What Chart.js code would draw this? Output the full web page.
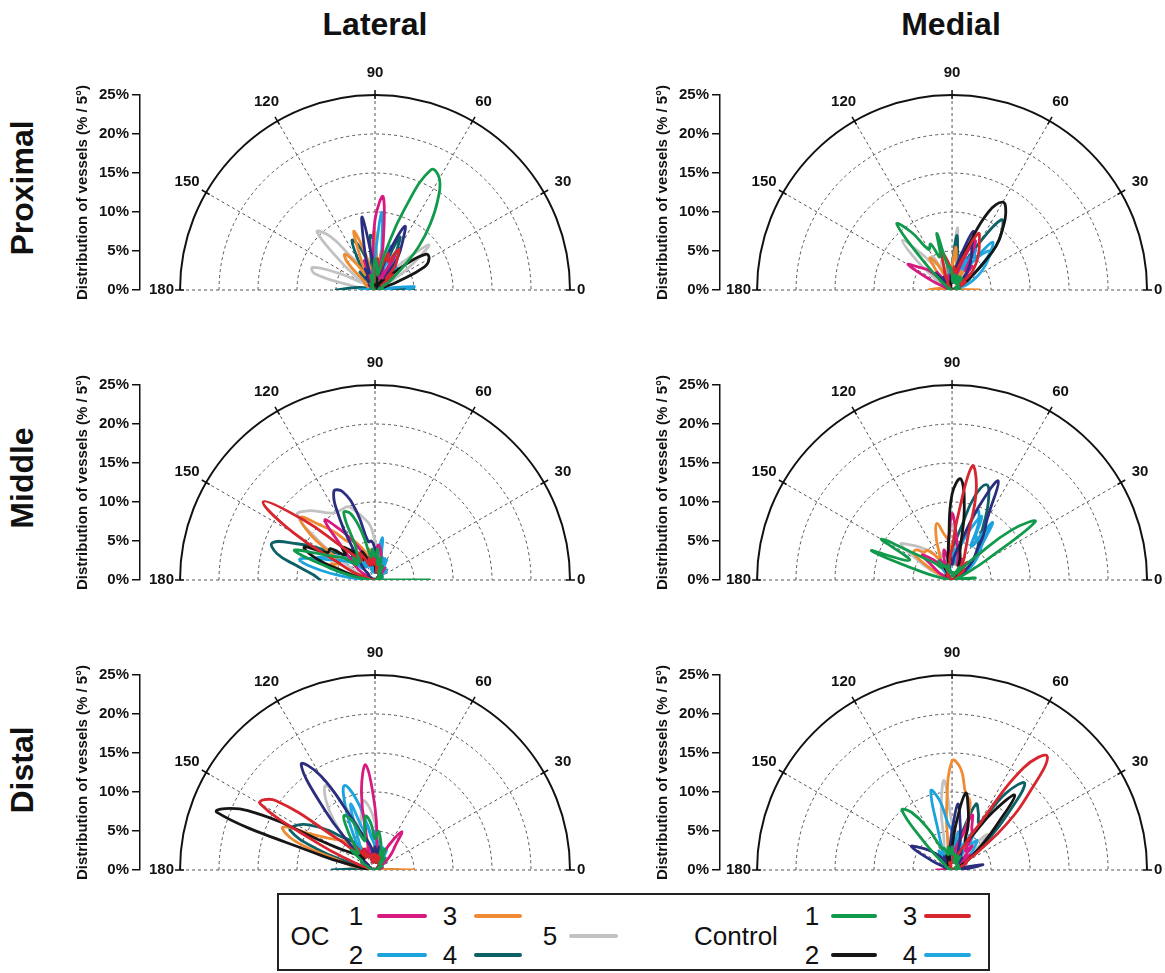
<!DOCTYPE html>
<html>
<head>
<meta charset="utf-8">
<script src="https://cdn.jsdelivr.net/npm/chart.js"></script>
<style>
  body { margin: 0; width: 1165px; height: 973px; overflow: hidden; background: #fff; position: relative;
         font-family: "Liberation Sans", Arial, sans-serif; color: #111; }
  canvas { position: absolute; }
  .colhead { position: absolute; top: 6px; font-size: 32px; font-weight: bold; transform: translateX(-50%); }
  .rowhead { position: absolute; left: 22px; font-size: 32px; font-weight: bold; white-space: nowrap;
             transform: translate(-50%, -50%) rotate(-90deg); }
  #legend { position: absolute; left: 277px; top: 893px; width: 713px; height: 78px; box-sizing: border-box;
            border: 2px solid #222; }
  .lt { position: absolute; font-size: 26px; line-height: 26px; transform: translateX(-50%); }
  .ll { position: absolute; height: 4px; border-radius: 2px; }
</style>
</head>
<body>

<div class="colhead" style="left:375px">Lateral</div>
<div class="colhead" style="left:951px">Medial</div>
<div class="rowhead" style="top:188px">Proximal</div>
<div class="rowhead" style="top:478px">Middle</div>
<div class="rowhead" style="top:770px">Distal</div>

<canvas id="latProx" width="560" height="245" style="left:50px;top:60px"></canvas>
<canvas id="medProx" width="560" height="245" style="left:630px;top:60px"></canvas>
<canvas id="latMid" width="560" height="245" style="left:50px;top:350px"></canvas>
<canvas id="medMid" width="560" height="245" style="left:630px;top:350px"></canvas>
<canvas id="latDist" width="560" height="245" style="left:50px;top:640px"></canvas>
<canvas id="medDist" width="560" height="245" style="left:630px;top:640px"></canvas>

<div id="legend"></div>
<div class="lt" style="left:310px;top:923px">OC</div>
<div class="lt" style="left:356px;top:903px">1</div>
<div class="ll" style="left:377px;top:914px;width:50px;background:#d8197f"></div>
<div class="lt" style="left:450px;top:903px">3</div>
<div class="ll" style="left:474px;top:914px;width:48px;background:#ef8b32"></div>
<div class="lt" style="left:356px;top:942px">2</div>
<div class="ll" style="left:377px;top:953px;width:50px;background:#1aa3dc"></div>
<div class="lt" style="left:450px;top:942px">4</div>
<div class="ll" style="left:474px;top:953px;width:48px;background:#0c6166"></div>
<div class="lt" style="left:550px;top:923px">5</div>
<div class="ll" style="left:569px;top:934px;width:49px;background:#c2c2c2"></div>
<div class="lt" style="left:736px;top:923px">Control</div>
<div class="lt" style="left:812px;top:903px">1</div>
<div class="ll" style="left:831px;top:914px;width:46px;background:#129a4c"></div>
<div class="lt" style="left:910px;top:903px">3</div>
<div class="ll" style="left:924px;top:914px;width:47px;background:#d8262f"></div>
<div class="lt" style="left:812px;top:942px">2</div>
<div class="ll" style="left:831px;top:953px;width:46px;background:#161616"></div>
<div class="lt" style="left:910px;top:942px">4</div>
<div class="ll" style="left:924px;top:953px;width:47px;background:#22a8e0"></div>

<script>
// angle bins (degrees), one value per 5 degree bin
const angles = [0,5,10,15,20,25,30,35,40,45,50,55,60,65,70,75,80,85,90,95,100,105,110,115,120,125,130,135,140,145,150,155,160,165,170,175,180];
const ringValues = [5, 10, 15, 20, 25];
const spokeAngles = [0, 30, 60, 90, 120, 150, 180];

// ---- Lateral / Proximal ----
const latProx_OC1 = [0.5,0,1,0.5,1.5,0.5,2,1,3,1, 4,2,5,1.5,3,2,6,12,9,3, 1,2,4,1,2,0.5,1,0.5,1,0, 0.5,0,0.5,0,0.5,0,0.5];
const latProx_OC2 = [4,5,1,0.5,1,0.5,2,1,2,1, 3,1,4,2,6,3,5,10,4,1, 2,0.5,1,0.5,1,0.5,1,0.5,0.5,0, 0.5,0,0.5,0,0.5,1,2];
const latProx_OC3 = [1,0.5,0.5,0,1,0.5,1,0.5,2,1, 2,1,3,2,4,2,5,3,7.5,3, 2,5,8,4,2,4,6,5,2,1, 1.5,0.5,1,0.5,0.5,0,0.5];
const latProx_OC4 = [5,2,0.5,1,0.5,1,2,1,3,1, 4,2,5,7.5,3,2,5,3,6,7, 3,4,6,7,4,2,3,1,2,0.5, 1,0.5,1,1,2,3,5];
const latProx_OC5 = [1,0.5,1,0.5,1.5,1,3,6,9,5, 2,1,2,1,2,1,3,2,3,1, 2,1,2,2,4,5,9,10.5,6,3, 2,5,8.5,8,3,1,0.5];
const latProx_C1  = [1,0.5,1,0.5,1,1,2,3,5,8, 11,14,16.5,17,11,5,2,3,4,2, 1,2,1,1,0.5,1,0.5,0.5,0,0.5, 0,0.5,0,0.5,0,0.5,0.5];
const latProx_C2  = [0.5,0,1,1,3,7,8,8,5,2, 1,1.5,0.5,1,0.5,1,1.5,0.5,1,0.5, 1,0.5,1,0.5,0.5,0,0.5,0,0.5,0, 0.5,0,0.5,0,0.5,0,0.5];
const latProx_C3  = [1,0.5,1,0.5,1,1,2,1,3,2, 4,5,6,4,5,3,2,4,3,1, 2,1,2,1,1,0.5,1,0.5,0.5,0, 0.5,0,0.5,0,0.5,0,0.5];
const latProx_C4  = [2,1,0.5,1,0.5,1,2,3,2,4, 3,5,6,4,3,2,3,2,4,3, 2,1,2,1,1,0.5,1,0.5,1,0.5, 0.5,0,0.5,0,0.5,0,0.5];
const latProx_N   = [0.5,0,0.5,0,1,0.5,1,2,1,3, 2,5,7,9,5,2,3,1,2,4, 9.5,5,2,3,1,2,1,0.5,1,0.5, 0.5,0,0.5,0,0.5,0,0.5];

// ---- Medial / Proximal ----
const medProx_OC1 = [0.5,0,0.5,1,0.5,1,2,1,3,2, 4,3,5,7,4,2,3,1,2,1, 2,1,2,1,2,1,3,2,4,5, 6.5,3,1,0.5,0.5,0,0.5];
const medProx_OC2 = [1,0.5,1,0.5,1,1,2,3,5,7, 8,5,6,3,4,2,3,1,2,1, 3,1,2,1,1,0.5,1,0.5,1,0.5, 0.5,0,0.5,0,0.5,0,0.5];
const medProx_OC3 = [3.5,1,0.5,0,0.5,0.5,1,0.5,1,1, 2,1,3,2,4,2,3,5.5,3,2, 4,2,3,2,4,5,3,2,2,1, 1,0.5,0.5,0.5,1,2,3];
const medProx_OC4 = [0.5,0,0.5,0.5,1,1,2,3,5,8, 10,11,7,4,3,2,4,7,3,1, 2,1,2,1,1,0.5,1,0.5,0.5,0, 0.5,0,0.5,0,0.5,0,0.5];
const medProx_OC5 = [0.5,0,0.5,0.5,1,0.5,1,2,1,3, 2,3,2,4,3,5,4,8,3,2, 3,2,4,3,5,4,6,9,6,3, 2,1,1,0.5,0.5,0,0.5];
const medProx_C1  = [1,0.5,1,0.5,0.5,0.5,1,0.5,1,1, 2,1,2,1,2,1,2,1,2,3, 3,7.5,4.5,6.5,6,9,11,5,2,1, 0.5,0,0.5,0,0.5,0,0.5];
const medProx_C2  = [0.5,0,0.5,0.5,1,1,2,3,5,8, 10,12,13,11,6,3,2,1,2,1, 1,0.5,1,0.5,0.5,0,0.5,0,0.5,0, 0.5,0,0.5,0,0.5,0,0.5];
const medProx_C3  = [0.5,0,0.5,0.5,1,1,2,1,3,4, 5,6,7,8,5,3,2,3,2,3, 4,5,3,2,1,1,0.5,0.5,0.5,0, 0.5,0,0.5,0,0.5,0,0.5];
const medProx_C4  = [1,0.5,1,1,2,3,4,5,6,7, 6,4,3,4,5,5,3,2,1,2, 1,1,0.5,1,0.5,0.5,0,0.5,0,0.5, 0,0.5,0,0.5,0,0.5,0.5];
const medProx_N   = [0.5,0,0.5,0,0.5,0.5,1,1,2,2, 3,4,5,6,8,5,3,2,1,2, 1,1,0.5,1,0.5,2,1,3,2,1, 0.5,0,0.5,0,0.5,0,0.5];

// ---- Lateral / Middle ----
const latMid_OC1 = [0.5,0,0.5,0,0.5,0.5,1,0.5,1,1, 2,1,2,1,2,3,4,4.5,3,2, 3,2,3,4,6,8,10,6,4,3, 2,1,1,0.5,0.5,0,0.5];
const latMid_OC2 = [1,0.5,0.5,0,0.5,0.5,1,0.5,1,1, 2,1,2,3,2,3,5.5,3,2,1, 2,1,2,2,3,2,3,2,3,4, 5,6,8,10,7,3,1];
const latMid_OC3 = [1,0.5,0.5,0,0.5,0.5,0.5,0.5,1,0.5, 1,1,2,1,2,3,2,3,2,3, 4,3,4,5,6,6,8,10,12.5,10, 6,5,6,4,2,1,0.5];
const latMid_OC4 = [0.5,0,0.5,0.5,1,0.5,1,1,2,1, 2,1,2,3,2,3,2,4,3,2, 3,2,3,4,3,4,5,4,5,6, 8,11,14,13,10,8,7];
const latMid_OC5 = [0.5,0,0.5,0,0.5,0.5,1,0.5,1,1, 2,1,2,1,2,2,3,4,5,7, 8,9,10,10,10,10.5,11.5,12.5,13,9, 5,3,2,1,1,0.5,0.5];
const latMid_C1  = [7,0.5,0.5,0,0.5,1,0.5,1,1,0.5, 1,1,2,1,2,3,2,4,3,4, 3,6,9,9.5,5,4,3,4,3,5, 6,8,11,6,3,1,0.5];
const latMid_C2  = [0.5,0,0.5,0,0.5,0.5,0.5,0.5,1,0.5, 1,1,1,1,2,1,2,1,2,2, 3,2,3,4,3,4,5,6,5,7, 7,10,8,4,2,1,0.5];
const latMid_C3  = [0.5,0,0.5,0,0.5,0.5,0.5,0.5,1,0.5, 1,1,1,2,1,2,1,2,2,3, 2,3,2,3,4,3,4,6,12,17.5, 12,5,3,1,0.5,0,0.5];
const latMid_C4  = [1,0.5,0.5,0.5,1,0.5,1,1,2,1, 2,2,3,2,3,3,5,3,2,2, 3,2,3,2,3,3,4,3,4,5, 6,7,8,6,3,1,0.5];
const latMid_N   = [0.5,0,0.5,0,0.5,0.5,0.5,0.5,1,0.5, 1,1,1,1,2,1,2,3,4,5, 5,9,12,12.5,9,5,3,2,1,1, 0.5,0.5,0.5,0,0.5,0,0.5];

// ---- Medial / Middle ----
const medMid_OC1 = [0.5,0,0.5,0,0.5,0.5,1,0.5,1,1, 2,1,2,3,2,3,4,6,8.5,5, 3,4,3,2,3,2,3,4,5,3, 2,1,1,0.5,0.5,0,0.5];
const medMid_OC2 = [0.5,0,0.5,0.5,1,1,2,2,3,4, 6,9,5,8,9.5,5,3,2,3,2, 2,1,2,1,2,1,2,1,1,0.5, 0.5,0,0.5,0,0.5,0,0.5];
const medMid_OC3 = [1,0.5,0.5,0,0.5,0.5,1,0.5,1,1, 2,1,2,2,3,2,3,4,3,5, 6,7.5,6,4,3,4,5,5,6,6, 4,2,1,0.5,0.5,0,0.5];
const medMid_OC4 = [0.5,0,0.5,0.5,1,1,2,2,3,4, 5,6,8,11,13,11,7,5,4,3, 3,2,2,1,2,1,1,0.5,1,0.5, 0.5,0,0.5,0,0.5,0,0.5];
const medMid_OC5 = [0.5,0,0.5,0,0.5,0.5,1,0.5,1,1, 2,1,2,2,3,2,3,5,7,5, 3,4,3,4,3,4,5,6,7,8, 5,3,1,0.5,0.5,0,0.5];
const medMid_C1  = [0.5,3,1,0.5,1,2,5,13,10,4, 2,1,2,1,1,0.5,1,0.5,1,1, 1,2,1,2,2,3,2,3,4,6, 10.5,6,11,4,1,0.5,0.5];
const medMid_C2  = [0.5,0,0.5,0,0.5,0.5,1,0.5,1,1, 2,1,2,2,3,4,9,13,11,5, 3,2,2,1,2,1,1,0.5,1,0.5, 0.5,0,0.5,0,0.5,0,0.5];
const medMid_C3  = [0.5,0,0.5,0,0.5,0.5,1,1,2,2, 3,2,3,4,6,12,14.8,8,4,3, 2,2,1,2,1,1,0.5,1,0.5,0.5, 0.5,0,0.5,0,0.5,0,0.5];
const medMid_C4  = [1,0.5,0.5,0.5,1,1,2,3,4,5, 6,8,6,9,7,5,3,4,3,2, 2,1,2,1,1,0.5,1,0.5,0.5,0, 0.5,0,0.5,0,0.5,0,0.5];
const medMid_N   = [0.5,0,0.5,0.5,1,1,2,2,3,4, 5,7,9,14,10,6,4,3,2,3, 2,1,2,1,1,0.5,1,0.5,0.5,0, 0.5,0,0.5,0,0.5,0,0.5];

// ---- Lateral / Distal ----
const latDist_OC1 = [0.5,0,0.5,0.5,1,0.5,1,1,2,3, 4,6,4,2,1,2,1,3,8,13.5, 10,4,2,3,2,3,2,3,2,1, 2,1,1,0.5,0.5,0,0.5];
const latDist_OC2 = [0.5,0,0.5,0,0.5,0.5,1,0.5,1,1, 2,1,2,1,2,2,3,2,3,4, 6,9.5,11.5,9,6,4,3,4,3,2, 2,1,1,0.5,0.5,0,0.5];
const latDist_OC3 = [5,1,0.5,0,0.5,0.5,1,0.5,1,1, 2,1,2,1,2,2,3,2,3,2, 3,2,3,2,3,4,3,5,6,7, 9,13,11,5,3,1,0.5];
const latDist_OC4 = [3,1,0.5,0.5,1,0.5,1,1,2,1, 2,1,2,1,2,2,3,2,3,2, 3,2,3,2,3,4,5,6,8,10, 11.5,12,8,3,1,2,5.5];
const latDist_OC5 = [0.5,0,0.5,0,0.5,0.5,1,0.5,1,1, 2,1,2,1,2,2,3,4,6,8, 9,7,6,9,12.5,11,8,5,3,2, 2,1,1,0.5,0.5,0,0.5];
const latDist_C1  = [0.5,0,0.5,0,0.5,0.5,1,0.5,1,1, 2,1,2,3,2,3,4,5,4,6, 7,5,4,7,8,6,4,3,4,2, 2,1,1,0.5,0.5,0,0.5];
const latDist_C2  = [0.5,0,0.5,0,0.5,0.5,0.5,0.5,1,0.5, 1,1,1,1,2,1,2,1,2,2, 2,1,2,2,3,2,3,2,3,4, 6,18,21.5,7,2,1,0.5];
const latDist_C3  = [0.5,0,0.5,0,0.5,0.5,0.5,0.5,1,0.5, 1,1,1,1,2,1,2,1,2,2, 2,1,2,2,3,2,4,3,6,15.5, 17,8,3,1,0.5,0,0.5];
const latDist_C4  = [0.5,0,0.5,0.5,1,0.5,1,1,2,1, 2,2,3,2,3,3,4,3,5,4, 6,5,9,6,4,3,2,3,2,2, 1,1,0.5,0.5,0.5,0,0.5];
const latDist_N   = [0.5,0,0.5,0,0.5,0.5,0.5,0.5,1,0.5, 1,1,1,1,2,2,3,2,3,2, 3,4,5,8,14,16.5,10,4,2,1, 1,0.5,0.5,0.5,0.5,0,0.5];

// ---- Medial / Distal ----
const medDist_OC1 = [0.5,0,0.5,0.5,1,1,2,1,3,2, 4,3,5,6,7.5,4,3,2,3,2, 2,1,2,1,1,0.5,1,0.5,1,0.5, 1,0.5,1,0.5,1,1,2];
const medDist_OC2 = [0.5,0,0.5,0.5,1,0.5,1,1,2,1, 2,2,3,2,3,4,3,4,5,6, 9,10.5,5,3,2,3,2,1,1,0.5, 0.5,0,0.5,0,0.5,0,0.5];
const medDist_OC3 = [0.5,0,0.5,0.5,1,0.5,1,1,2,1, 2,2,3,4,5,9,10,13,14,8, 3,2,2,1,2,1,1,0.5,1,0.5, 0.5,0,0.5,0,0.5,0,0.5];
const medDist_OC4 = [0.5,0,0.5,0.5,1,1,2,3,6,10, 14.5,12,7,8,9,5,3,2,2,1, 2,1,2,1,1,0.5,1,0.5,0.5,0, 0.5,0,0.5,0,0.5,0,0.5];
const medDist_OC5 = [0.5,0,0.5,0.5,1,1,2,3,4,6.5, 4,3,2,3,2,3,4,5,6,11.5, 8,4,3,2,3,2,2,1,1,0.5, 0.5,0,0.5,0,0.5,0,0.5];
const medDist_C1  = [1,0.5,1,0.5,0.5,0.5,1,0.5,1,1, 1,1,2,1,2,1,2,2,3,2, 3,2,3,3,6,9,10,5,2,1, 1,0.5,0.5,0,0.5,0,0.5];
const medDist_C2  = [0.5,0,0.5,0.5,1,1,2,3,5,8, 12.5,9,5,4,6,8,10,6,3,2, 2,1,2,1,1,0.5,1,0.5,0.5,0, 0.5,0,0.5,0,0.5,0,0.5];
const medDist_C3  = [0.5,0,0.5,1,1,2,2,4,9,14, 19,16,6,3,2,1,1,2,1,1, 1,0.5,1,0.5,0.5,0,0.5,0,0.5,0, 0.5,0,0.5,0,0.5,0,0.5];
const medDist_C4  = [0.5,0,0.5,0.5,1,1,2,2,3,4, 5,4,6,4,3,4,5,3,2,2, 1,1,0.5,1,0.5,0.5,0,0.5,0,0.5, 0,0.5,0,0.5,0,0.5,0.5];
const medDist_N   = [1,2,4,1,0.5,0.5,1,0.5,1,1, 2,1,2,3,2,4,6,8.5,5,3, 2,1,2,1,2,1,2,3,4,5, 6,3,1,0.5,0.5,0,0.5];

// first entry is drawn on top
const seriesOrder = ['C1', 'C3', 'C2', 'N', 'OC1', 'OC2', 'C4', 'OC3', 'OC4', 'OC5'];
const seriesNames = { OC1: 'OC 1', OC2: 'OC 2', OC3: 'OC 3', OC4: 'OC 4', OC5: 'OC 5',
                      C1: 'Control 1', C2: 'Control 2', C3: 'Control 3', C4: 'Control 4', N: 'Control' };
const seriesColors = { OC1: '#d8197f', OC2: '#1aa3dc', OC3: '#ef8b32', OC4: '#0c6166', OC5: '#c2c2c2',
                       C1: '#129a4c', C2: '#161616', C3: '#d8262f', C4: '#22a8e0', N: '#2b2d80' };

const panels = [
  { id: 'latProx', xMin: -30.13, data: { OC1: latProx_OC1, OC2: latProx_OC2, OC3: latProx_OC3, OC4: latProx_OC4, OC5: latProx_OC5, C1: latProx_C1, C2: latProx_C2, C3: latProx_C3, C4: latProx_C4, N: latProx_N } },
  { id: 'medProx', xMin: -29.75, data: { OC1: medProx_OC1, OC2: medProx_OC2, OC3: medProx_OC3, OC4: medProx_OC4, OC5: medProx_OC5, C1: medProx_C1, C2: medProx_C2, C3: medProx_C3, C4: medProx_C4, N: medProx_N } },
  { id: 'latMid', xMin: -30.13, data: { OC1: latMid_OC1, OC2: latMid_OC2, OC3: latMid_OC3, OC4: latMid_OC4, OC5: latMid_OC5, C1: latMid_C1, C2: latMid_C2, C3: latMid_C3, C4: latMid_C4, N: latMid_N } },
  { id: 'medMid', xMin: -29.75, data: { OC1: medMid_OC1, OC2: medMid_OC2, OC3: medMid_OC3, OC4: medMid_OC4, OC5: medMid_OC5, C1: medMid_C1, C2: medMid_C2, C3: medMid_C3, C4: medMid_C4, N: medMid_N } },
  { id: 'latDist', xMin: -30.13, data: { OC1: latDist_OC1, OC2: latDist_OC2, OC3: latDist_OC3, OC4: latDist_OC4, OC5: latDist_OC5, C1: latDist_C1, C2: latDist_C2, C3: latDist_C3, C4: latDist_C4, N: latDist_N } },
  { id: 'medDist', xMin: -29.75, data: { OC1: medDist_OC1, OC2: medDist_OC2, OC3: medDist_OC3, OC4: medDist_OC4, OC5: medDist_OC5, C1: medDist_C1, C2: medDist_C2, C3: medDist_C3, C4: medDist_C4, N: medDist_N } },
];

// canvas layout (px)
const W = 560, H = 245, padL = 20, padR = 20, padT = 35, padB = 15, axisW = 70;
const plotW = W - padL - axisW - padR, plotH = H - padT - padB;
const yMax = 25;
const fontFamily = '"Liberation Sans", Arial, sans-serif';

function toPoints(values) {
  return angles.map((a, i) => ({
    x: values[i] * Math.cos(a * Math.PI / 180),
    y: values[i] * Math.sin(a * Math.PI / 180)
  }));
}

// half-polar frame: dashed rings and spokes, solid outer arc, angle labels
const polarFrame = {
  id: 'polarFrame',
  beforeDatasetsDraw(chart) {
    const { ctx, scales: { x, y } } = chart;
    const cx = x.getPixelForValue(0), cy = y.getPixelForValue(0);
    const rad = v => cy - y.getPixelForValue(v);
    const R = rad(yMax);
    ctx.save();
    ctx.strokeStyle = '#555';
    ctx.lineWidth = 1;
    ctx.setLineDash([3, 3]);
    ringValues.filter(v => v < yMax).forEach(v => {
      ctx.beginPath();
      ctx.arc(cx, cy, rad(v), Math.PI, 2 * Math.PI);
      ctx.stroke();
    });
    spokeAngles.filter(a => a > 0 && a < 180).forEach(a => {
      const t = a * Math.PI / 180;
      ctx.beginPath();
      ctx.moveTo(cx, cy);
      ctx.lineTo(cx + R * Math.cos(t), cy - R * Math.sin(t));
      ctx.stroke();
    });
    ctx.beginPath();
    ctx.moveTo(cx - R, cy);
    ctx.lineTo(cx + R, cy);
    ctx.stroke();

    ctx.setLineDash([]);
    ctx.strokeStyle = '#111';
    ctx.lineWidth = 2;
    ctx.beginPath();
    ctx.arc(cx, cy, R, Math.PI, 2 * Math.PI);
    ctx.stroke();

    ctx.lineWidth = 1.5;
    ctx.fillStyle = '#111';
    ctx.font = 'bold 15px ' + fontFamily;
    spokeAngles.forEach(a => {
      const t = a * Math.PI / 180;
      const c = Math.cos(t), s = Math.sin(t);
      ctx.beginPath();
      ctx.moveTo(cx + (R - 4) * c, cy - (R - 4) * s);
      ctx.lineTo(cx + (R + 5) * c, cy - (R + 5) * s);
      ctx.stroke();
      ctx.textBaseline = 'middle';
      if (a === 0) {
        ctx.textAlign = 'left';
        ctx.fillText(String(a), cx + R + 7, cy);
      } else if (a === 180) {
        ctx.textAlign = 'right';
        ctx.fillText(String(a), cx - R - 6, cy);
      } else {
        ctx.textAlign = 'center';
        ctx.fillText(String(a), cx + (R + 22) * c, cy - (R + 22) * s);
      }
    });
    ctx.restore();
  }
};

panels.forEach(p => {
  const xMax = p.xMin + plotW * yMax / plotH;
  const datasets = seriesOrder.map(k => ({
    label: seriesNames[k],
    data: toPoints(p.data[k]),
    borderColor: seriesColors[k],
    backgroundColor: seriesColors[k],
    showLine: true,
    fill: false,
    borderWidth: 2.8,
    tension: 0.45,
    pointRadius: 0,
    borderJoinStyle: 'round',
    borderCapStyle: 'round'
  }));

  new Chart(document.getElementById(p.id), {
    type: 'scatter',
    data: { datasets },
    plugins: [polarFrame],
    options: {
      responsive: false,
      animation: false,
      devicePixelRatio: 1,
      layout: { padding: { left: padL, right: padR, top: padT, bottom: padB } },
      plugins: { legend: { display: false }, tooltip: { enabled: false } },
      scales: {
        x: { type: 'linear', display: false, min: p.xMin, max: xMax },
        y: {
          type: 'linear',
          position: 'left',
          min: 0,
          max: yMax,
          afterFit(scale) { scale.width = axisW; },
          border: { display: true, color: '#111', width: 1.5 },
          grid: { drawOnChartArea: false, drawTicks: true, tickLength: 8, color: '#111', lineWidth: 1.5 },
          ticks: {
            stepSize: 5,
            padding: 3,
            color: '#111',
            font: { family: fontFamily, size: 15, weight: 'bold' },
            callback: v => v + '%'
          },
          title: {
            display: true,
            text: 'Distribution of vessels (% / 5°)',
            color: '#111',
            padding: { top: 4, bottom: 2 },
            font: { family: fontFamily, size: 15, weight: 'bold' }
          }
        }
      }
    }
  });
});
</script>
</body>
</html>
